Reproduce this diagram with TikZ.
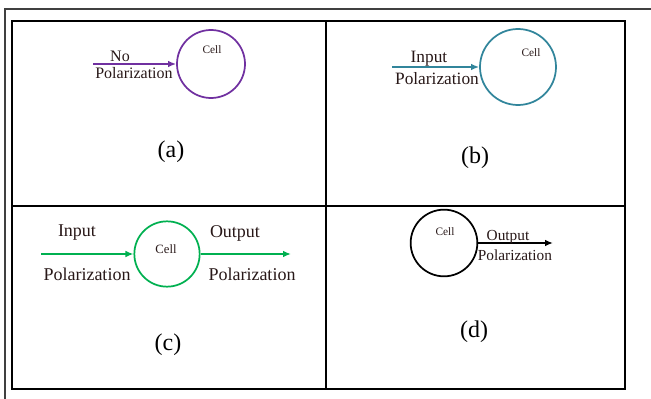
\documentclass[tikz,border=0pt]{standalone}
\usepackage{fontspec}
\setmainfont{Liberation Serif}
\usetikzlibrary{arrows.meta}

\definecolor{cellpurple}{RGB}{112,48,160}
\definecolor{cellteal}{RGB}{49,133,155}
\definecolor{cellgreen}{RGB}{0,176,80}
\definecolor{labeltext}{RGB}{40,24,24}

\begin{document}
\begin{tikzpicture}[
        x=0.75pt,y=-0.75pt,
        cell/.style={draw,circle,line width=1.3pt,inner sep=0pt},
        cellname/.style={text=labeltext,inner sep=0pt,font=\fontsize{8.5}{10}\selectfont},
        lab/.style={text=labeltext,inner sep=0pt},
        caption/.style={inner sep=0pt,font=\fontsize{18}{20}\selectfont},
        pol/.style={line width=1.3pt,-{Latex[length=6pt,width=5pt]}},
        frame/.style={line width=1.5pt}]

    \useasboundingbox (0,0) rectangle (651,399);

    % outer frame
    \draw[black!75,line width=1.4pt] (651,9) -- (5,9) -- (5,399);

    % table
    \draw[frame] (11.5,21) rectangle (625,389);
    \draw[frame] (326,21) -- (326,389);
    \draw[frame] (11.5,206) -- (625,206);

    % (a)
    \node[cell,cellpurple,minimum size=51pt] (cellA) at (211,64) {};
    \node[cellname] (cellAname) at (212,50) {Cell};
    \coordinate (inA) at (93,64);
    \draw[pol,cellpurple] (inA) -- (cellA.west);
    \node[lab,font=\fontsize{12}{14}\selectfont] (noA) at (120,56) {No};
    \node[lab,font=\fontsize{12}{14}\selectfont] (polA) at (134,73) {Polarization};
    \node[caption] (capA) at (171,152) {(a)};

    % (b)
    \node[cell,cellteal,minimum size=57pt] (cellB) at (518,67) {};
    \node[cellname] (cellBname) at (531,53) {Cell};
    \coordinate (inB) at (392,67);
    \draw[pol,cellteal] (inB) -- (cellB.west);
    \node[lab,font=\fontsize{13}{15}\selectfont] (inpB) at (429,59) {Input};
    \node[lab,font=\fontsize{13}{15}\selectfont] (polB) at (437,79) {Polarization};
    \node[caption] (capB) at (475,158) {(b)};

    % (c)
    \node[cell,cellgreen,minimum size=49pt] (cellC) at (167,254) {};
    \node[cellname,font=\fontsize{9.5}{11}\selectfont] (cellCname) at (166,249) {Cell};
    \coordinate (inC) at (41,254);
    \coordinate (outC) at (291,254);
    \draw[pol,cellgreen] (inC) -- (cellC.west);
    \draw[pol,cellgreen] (cellC.east) -- (outC);
    \node[lab,font=\fontsize{13.5}{15}\selectfont] (inpC) at (77,233) {Input};
    \node[lab,font=\fontsize{13.5}{15}\selectfont] (polCin) at (87,274) {Polarization};
    \node[lab,font=\fontsize{13.5}{15}\selectfont] (outpC) at (235,233) {Output};
    \node[lab,font=\fontsize{13.5}{15}\selectfont] (polCout) at (252,274) {Polarization};
    \node[caption] (capC) at (168,345) {(c)};

    % (d)
    \node[cell,black,minimum size=50pt] (cellD) at (444,243) {};
    \node[cellname] (cellDname) at (445,232) {Cell};
    \coordinate (outD) at (553,243);
    \draw[pol,black] (cellD.east) -- (outD);
    \node[lab,font=\fontsize{11.5}{13}\selectfont] (outpD) at (508,237) {Output};
    \node[lab,font=\fontsize{11.5}{13}\selectfont] (polD) at (515,255) {Polarization};
    \node[caption] (capD) at (474,332) {(d)};
\end{tikzpicture}
\end{document}
